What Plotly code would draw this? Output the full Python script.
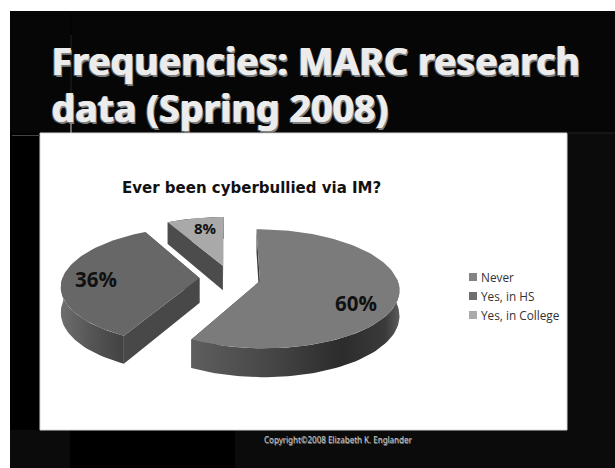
import numpy as np
import plotly.graph_objects as go

# values as printed on the slices (they add up to 104, the pie is drawn from the shares)
categories=["Never","Yes, in HS","Yes, in College"]
percent_values=[60,36,8]
percent_labels=["60%","36%","8%"]
chart_title="Ever been cyberbullied via IM?"
slide_title_lines=["Frequencies: MARC research","data (Spring 2008)"]
copyright_text="Copyright©2008 Elizabeth K. Englander"

top_colors=["#7b7b7b","#676767","#a9a9a9"]
cut_colors=["#3a3a3a","#484848","#4c4c4c"]
legend_colors=["#858585","#6e6e6e","#ababab"]
rim_scales=[
    [[0,"#5e5e5e"],[0.35,"#484848"],[0.72,"#2c2c2c"],[0.93,"#3a3a3a"],[1,"#5c5c5c"]],
    [[0,"#6e6e6e"],[0.5,"#545454"],[1,"#424242"]],
    [[0,"#4c4c4c"],[1,"#4c4c4c"]],
]

# projection of the pie, in pixels of the page
center_x,center_y=230,278
radius_x,radius_y=137,57.8
perspective=0.127
pull=0.223
depth=25

def project(x,y,drop=0):
    w=1/(1-perspective*y)
    return center_x+radius_x*x*w, center_y+(radius_y*y+drop)*w

def poly(fig,pts,name,color=None,gradient=None):
    xs=[p[0] for p in pts]+[pts[0][0]]
    ys=[p[1] for p in pts]+[pts[0][1]]
    kw=dict(fillcolor=color) if gradient is None else dict(
        fillgradient=dict(type="horizontal",colorscale=gradient,start=min(xs),stop=max(xs)))
    fig.add_trace(go.Scatter(x=xs,y=ys,mode="lines",fill="toself",line=dict(width=0),
                             name=name,hoverinfo="name",showlegend=False,**kw))

fig=go.Figure()

shares=np.array(percent_values)/sum(percent_values)
edges=np.concatenate([[0],np.cumsum(shares)])*2*np.pi

for i,name in enumerate(categories):
    a0,a1=edges[i],edges[i+1]
    mid=(a0+a1)/2
    ox,oy=pull*np.sin(mid),-pull*np.cos(mid)
    angs=np.linspace(a0,a1,int((a1-a0)*30)+2)
    rim=[(ox+np.sin(a),oy-np.cos(a)) for a in angs]
    tip=(ox,oy)
    # sides first, the top face covers whatever is hidden
    for end in (rim[0],rim[-1]):
        poly(fig,[project(*tip),project(*end),project(*end,depth),project(*tip,depth)],name,color=cut_colors[i])
    # only the part of the rim facing the viewer
    front=[p for p in rim if p[1]>=oy-0.05] or rim
    poly(fig,[project(*p) for p in front]+[project(*p,depth) for p in reversed(front)],name,gradient=rim_scales[i])
    poly(fig,[project(*tip)]+[project(*p) for p in rim],name,color=top_colors[i])

label_pos=[(355.5,303),(96,279),(205,228)]
label_size=[20.5,20.5,15]
for txt,pos,size in zip(percent_labels,label_pos,label_size):
    fig.add_annotation(x=pos[0],y=pos[1],text=f"<b>{txt}</b>",showarrow=False,
                       font=dict(family="Open Sans",size=size,color="#111111"))

fig.add_annotation(x=251.5,y=188,text=f"<b>{chart_title}</b>",showarrow=False,
                   font=dict(family="DejaVu Sans",size=15,color="#111111"))

# legend drawn by hand, plotly's own leaves too wide a gap to the swatch
legend_y=[277,296,315]
for name,color,ly in zip(categories,legend_colors,legend_y):
    fig.add_shape(type="rect",x0=469,x1=477,y0=ly-4,y1=ly+4,fillcolor=color,line_width=0,layer="above")
    fig.add_annotation(x=479,y=ly,text=name,showarrow=False,xanchor="left",
                       font=dict(family="Open Sans",size=11.8,color="#333333"))

# slide title with a hard grey shadow
title_y=[60,107]
for line,ty in zip(slide_title_lines,title_y):
    fig.add_annotation(x=49,y=ty,text=f"<b>{line}</b>",showarrow=False,xanchor="left",
                       font=dict(family="Noto Sans",size=37.6,color="#ececec",
                                 shadow="1px 0 0 #ececec, 2px 2px 0 #808080, -1px 1px 0 #555555"))

fig.add_annotation(x=338,y=439,text=copyright_text,showarrow=False,
                   font=dict(family="Noto Sans",size=8,color="#c4c4c4",shadow="0.5px 0.5px 0 #777777"))

backdrop=[(10,615,11,468,"#0b0b0b"),(10,615,11,133,"#060606"),(10,40,133,430,"#000000"),
          (70,235,430,468,"#000000")]
shapes=[dict(type="rect",x0=a,x1=b,y0=c,y1=d,fillcolor=col,line_width=0,layer="below") for a,b,c,d,col in backdrop]
shapes.append(dict(type="rect",x0=40,x1=567,y0=133,y1=430,fillcolor="#ffffff",line=dict(color="#d8d8d8",width=1),layer="below"))
shapes.append(dict(type="line",x0=71,x1=71,y0=13,y1=35,line=dict(color="#000000",width=1),layer="below"))
shapes.append(dict(type="line",x0=71,x1=71,y0=35,y1=118,line=dict(color="#222222",width=1),layer="below"))
shapes.append(dict(type="line",x0=71,x1=71,y0=118,y1=133,line=dict(color="#cccccc",width=1),layer="below"))
shapes.append(dict(type="line",x0=12,x1=40,y0=135.5,y1=135.5,line=dict(color="#444444",width=1),layer="below"))
shapes.append(dict(type="line",x0=567,x1=615,y0=133,y1=133,line=dict(color="#222222",width=1),layer="below"))
for s in shapes:
    fig.add_shape(**s)

fig.update_layout(width=615,height=468,margin=dict(l=0,r=0,t=0,b=0),paper_bgcolor="#ffffff",plot_bgcolor="#ffffff",
                  showlegend=False,
                  xaxis=dict(range=[0,615],visible=False,fixedrange=True),
                  yaxis=dict(range=[468,0],visible=False,fixedrange=True))

fig.write_html("out.html",config=dict(displayModeBar=False),
               post_script="document.body.style.margin='0';")
